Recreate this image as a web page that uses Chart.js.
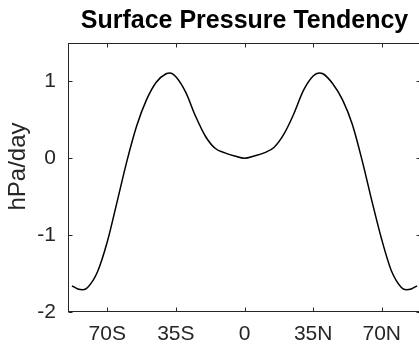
<!DOCTYPE html>
<html>
<head>
<meta charset="utf-8">
<script src="https://cdn.jsdelivr.net/npm/chart.js@4.4.0/dist/chart.umd.min.js"></script>
<style>
  html, body { margin: 0; padding: 0; overflow: hidden; background: #fff; }
  canvas { display: block; }
</style>
</head>
<body>
<canvas id="c" width="425" height="345"></canvas>
<script>
// latitude (deg, S negative) and tendency (hPa/day)
const lats = [-88, -85, -82.5, -80, -75, -70, -65, -60, -55, -50, -45, -40, -38, -35, -30, -25, -20, -15, -10, -5, 0,
  5, 10, 15, 20, 25, 30, 35, 38, 40, 45, 50, 55, 60, 65, 70, 75, 80, 82.5, 85, 88];
const tendency = [-1.66, -1.70, -1.71, -1.68, -1.48, -1.09, -0.57, -0.04, 0.42, 0.76, 0.99, 1.10, 1.11, 1.06, 0.86, 0.55, 0.29, 0.13, 0.07, 0.03, 0.0,
  0.03, 0.07, 0.14, 0.31, 0.57, 0.88, 1.07, 1.11, 1.10, 0.97, 0.76, 0.44, -0.03, -0.56, -1.06, -1.47, -1.68, -1.71, -1.70, -1.66];

const xTickValues = [-70, -35, 0, 35, 70];
const xTickLabels = ['70S', '35S', '0', '35N', '70N'];
const yTickValues = [-2, -1, 0, 1];

const AXIS = '#262626';
const FONT = '"Liberation Sans", Arial, Helvetica, sans-serif';

// box round the plot with short inward ticks on all four sides
const boxPlugin = {
  id: 'box',
  afterDraw(chart) {
    const { ctx, chartArea: a, scales } = chart;
    const L = Math.round(a.left) + 0.5, R = Math.round(a.right) - 0.5;
    const T = Math.round(a.top) + 0.5, B = Math.round(a.bottom) - 0.5;
    const len = 4;
    ctx.save();
    ctx.strokeStyle = AXIS;
    ctx.lineWidth = 1;
    ctx.strokeRect(L, T, R - L, B - T);
    ctx.beginPath();
    xTickValues.forEach(v => {
      const px = Math.round(scales.x.getPixelForValue(v)) + 0.5;
      ctx.moveTo(px, B); ctx.lineTo(px, B - len);
      ctx.moveTo(px, T); ctx.lineTo(px, T + len);
    });
    yTickValues.forEach(v => {
      const py = Math.round(scales.y.getPixelForValue(v)) + 0.5;
      ctx.moveTo(L, py); ctx.lineTo(L + len, py);
      ctx.moveTo(R, py); ctx.lineTo(R - len, py);
    });
    ctx.stroke();

    // y label, a bit above the middle like the original
    ctx.fillStyle = '#262626';
    ctx.font = '24px ' + FONT;
    ctx.textAlign = 'center';
    ctx.textBaseline = 'middle';
    ctx.translate(18, (a.top + a.bottom) / 2 - 11);
    ctx.rotate(-Math.PI / 2);
    ctx.fillText('hPa/day', 0, 0);
    ctx.restore();
  }
};

new Chart(document.getElementById('c'), {
  type: 'line',
  data: {
    datasets: [{
      data: lats.map((lat, i) => ({ x: lat, y: tendency[i] })),
      borderColor: '#000',
      borderWidth: 1.5,
      pointRadius: 0,
      cubicInterpolationMode: 'monotone',
      fill: false
    }]
  },
  options: {
    responsive: false,
    animation: false,
    layout: { padding: { left: 0, right: 4, top: 0, bottom: 0 } },
    plugins: {
      legend: { display: false },
      tooltip: { enabled: false },
      title: {
        display: true,
        text: 'Surface Pressure Tendency',
        fullSize: false,
        color: '#000',
        font: { family: FONT, size: 25, weight: 'bold' },
        padding: { top: 6, bottom: 7 }
      }
    },
    scales: {
      x: {
        type: 'linear',
        min: -90,
        max: 90,
        afterBuildTicks: s => { s.ticks = xTickValues.map(v => ({ value: v })); },
        afterFit: s => { s.height = 33; },
        grid: { display: false, drawTicks: false },
        border: { display: false },
        ticks: {
          color: '#262626',
          padding: 10,
          maxRotation: 0,
          font: { family: FONT, size: 21 },
          callback: v => xTickLabels[xTickValues.indexOf(v)]
        }
      },
      y: {
        min: -2,
        max: 1.5,
        afterBuildTicks: s => { s.ticks = yTickValues.map(v => ({ value: v })); },
        afterFit: s => { s.width = 68; },
        grid: { display: false, drawTicks: false },
        border: { display: false },
        ticks: {
          color: '#262626',
          padding: 12,
          font: { family: FONT, size: 21 }
        }
      }
    }
  },
  plugins: [boxPlugin]
});
</script>
</body>
</html>
